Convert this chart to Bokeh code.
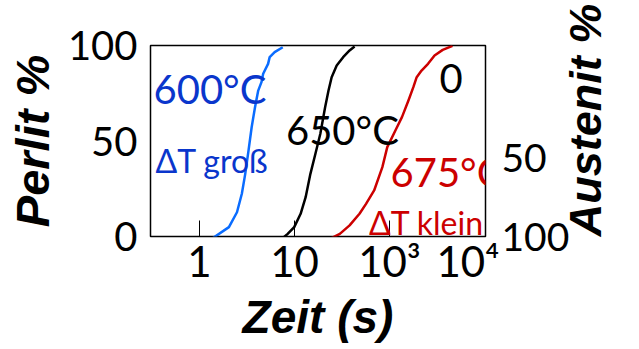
import math
from bokeh.plotting import figure
from bokeh.models import Range1d, LinearAxis, FixedTicker, Label
from bokeh.embed import file_html
from bokeh.resources import INLINE

# ---- data ----
t600 = [1.32, 2.04, 2.48, 2.79, 3.03, 3.28, 3.54, 3.84, 4.15, 4.49, 4.68, 5.27, 5.48, 6.18, 7.52]
p600 = [-1.5, 4.9, 12.7, 22.4, 32.8, 45.0, 57.2, 67.7, 76.4, 80.8, 85.2, 90.4, 93.9, 96.5, 99.1]

t650 = [7.22, 8.47, 9.93, 11.6, 13.1, 14.7, 16.6, 18.7, 21.0, 22.8, 24.6, 27.8, 32.5, 38.0, 42.9]
p650 = [-1.6, 1.4, 4.9, 11.9, 20.6, 32.8, 43.3, 53.8, 67.7, 76.4, 83.4, 89.5, 93.9, 97.4, 99.5]

t675 = [23.7, 30.0, 38.0, 48.3, 56.6, 68.9, 84.1, 94.7, 115.3, 135.2, 158.2, 178.2,
        193.2, 217.4, 254.3, 297.9, 363.0, 460.0]
p675 = [-1.2, 1.4, 5.8, 11.9, 17.1, 24.1, 36.3, 46.8, 55.5, 62.5, 71.2, 78.2,
        83.4, 86.9, 90.4, 94.8, 97.7, 99.8]

x_ticks = [1, 10, 100, 668]
x_tick_labels = ["1", "10", "10³", "10⁴"]
x_tick_marks = [1, 10, 100]
left_ticks = [0, 50, 100]
right_ticks = [50, 100]
right_title = "Austenit %"
right_title_start = 99.9   # the rotated right-hand title starts at the bottom of the Austenit scale

BLUE_TXT = "#0a36cc"
BLUE_LINE = "#0a6cff"
RED = "#cc0000"
FONT = "Lato"
TITLE_FONT = "Liberation Sans"

p = figure(width=639, height=349, x_axis_type="log",
           x_range=Range1d(0.305, 1024), y_range=Range1d(0, 100),
           output_backend="svg", toolbar_location=None,
           min_border_left=150, min_border_right=147,
           min_border_top=45, min_border_bottom=113)
p.extra_y_ranges = {"austenit": Range1d(start=100, end=-21)}

p.xgrid.visible = False
p.ygrid.visible = False
p.outline_line_color = "black"
p.outline_line_width = 1.5
p.background_fill_color = "white"
p.border_fill_color = "white"

# x axis
xa = p.xaxis[0]
xa.ticker = FixedTicker(ticks=x_ticks, minor_ticks=x_tick_marks)
xa.major_label_overrides = {k: v for k, v in zip(x_ticks, x_tick_labels)}
xa.major_tick_in = 0
xa.major_tick_out = 0
xa.minor_tick_in = 16
xa.minor_tick_out = 0
xa.minor_tick_line_color = "black"
xa.minor_tick_line_width = 1
xa.axis_line_color = None
xa.major_label_standoff = -1
xa.major_label_text_font = FONT
xa.major_label_text_font_size = "42px"
xa.major_label_text_color = "black"
xa.axis_label = "Zeit (s)"
xa.axis_label_text_font = TITLE_FONT
xa.axis_label_text_font_style = "bold italic"
xa.axis_label_text_font_size = "46px"
xa.axis_label_text_color = "black"
xa.axis_label_standoff = 2

# left axis
ya = p.yaxis[0]
ya.ticker = FixedTicker(ticks=left_ticks)
ya.major_tick_in = 0
ya.major_tick_out = 0
ya.minor_tick_line_color = None
ya.axis_line_color = None
ya.major_label_standoff = 13
ya.major_label_text_font = FONT
ya.major_label_text_font_size = "40px"
ya.major_label_text_color = "black"
ya.axis_label = "Perlit %"
ya.axis_label_text_font = TITLE_FONT
ya.axis_label_text_font_style = "bold italic"
ya.axis_label_text_font_size = "47px"
ya.axis_label_text_color = "black"
ya.axis_label_standoff = 6

# right axis (Austenit = 100 - Perlit)
ra = LinearAxis(y_range_name="austenit", ticker=FixedTicker(ticks=right_ticks))
ra.major_tick_in = 0
ra.major_tick_out = 0
ra.minor_tick_line_color = None
ra.axis_line_color = None
ra.major_label_standoff = 16
ra.major_label_text_font = FONT
ra.major_label_text_font_size = "39px"
ra.major_label_text_color = "black"
p.add_layout(ra, "right")

# right-hand axis title, reading bottom-to-top (rotated label of an outer axis)
rt = LinearAxis(y_range_name="austenit",
                ticker=FixedTicker(ticks=[right_title_start]))
rt.major_label_overrides = {right_title_start: right_title}
rt.major_label_orientation = math.pi / 2
rt.major_tick_in = 0
rt.major_tick_out = 0
rt.minor_tick_line_color = None
rt.axis_line_color = None
rt.major_label_standoff = 13
rt.major_label_text_font = TITLE_FONT
rt.major_label_text_font_style = "bold italic"
rt.major_label_text_font_size = "45px"
rt.major_label_text_color = "black"
p.add_layout(rt, "right")

# in-plot texts
def add_label(text, x, y, color, size, y_range_name="default", baseline="alphabetic"):
    p.add_layout(Label(x=x, y=y, text=text, text_color=color, text_font=FONT,
                       text_font_size=size, text_align="left",
                       text_baseline=baseline, y_range_name=y_range_name))

# curves
p.line(t600, p600, line_color=BLUE_LINE, line_width=2.5, line_join="round")
p.line(t650, p650, line_color="black", line_width=2.5, line_join="round")
p.line(t675, p675, line_color=RED, line_width=2.5, line_join="round")

add_label("600°C", 0.328, 77.3, BLUE_TXT, "40px")
add_label("ΔT groß", 0.344, 39.8, BLUE_TXT, "32px")
add_label("650°C", 8.13, 55.9, "black", "40px")
add_label("675°C", 102.4, 33.7, RED, "40px")
add_label("ΔT klein", 60.8, 7.5, RED, "32px")
add_label("0", 335.6, 0, "black", "40px", y_range_name="austenit", baseline="middle")

open("out.html", "w").write(file_html(p, INLINE))
